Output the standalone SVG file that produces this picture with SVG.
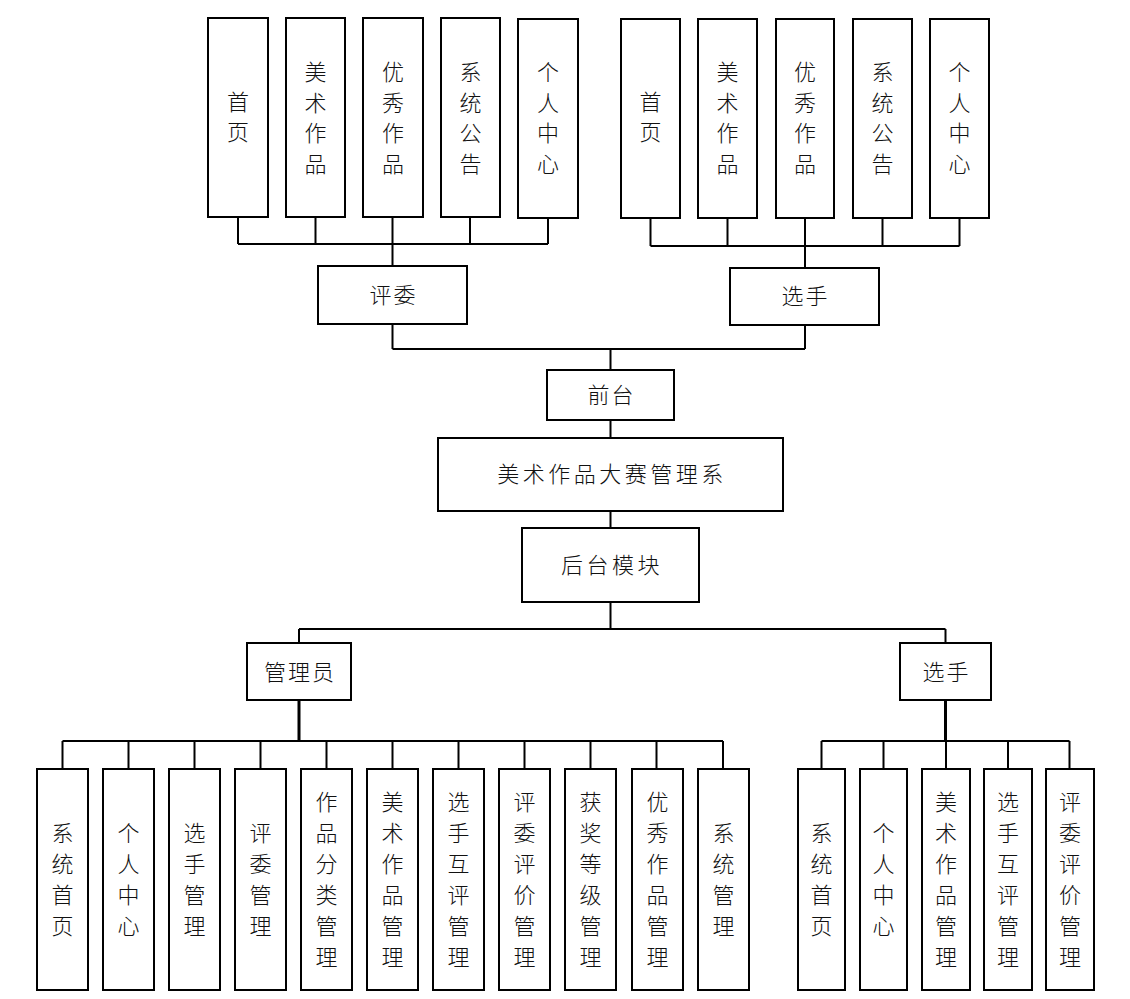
<svg xmlns="http://www.w3.org/2000/svg" width="1130" height="999" viewBox="0 0 1130 999">
<style>
.b{fill:#fff;stroke:#000;stroke-width:2}
.t{font-family:"Noto Sans CJK SC","Noto Sans",sans-serif;font-size:22px;font-weight:300;fill:#111;text-anchor:middle;dominant-baseline:central;transform:translateY(-2px)}
.h{letter-spacing:2px}
.c{fill:none;stroke:#000;stroke-width:2}
.k{stroke-width:3}
</style>
<rect width="1130" height="999" fill="#fff"/>
<g id="connectors">
<path class="c" d="M238 217V244M315.5 217V244M392.5 217V244M470 217V244M548 218V244M238 244H548M392.5 244V266"/>
<path class="c" d="M650.5 218V246M727.5 218V246M805 218V246M882.5 218V246M959.5 218V246M650.5 246H959.5M805 246V268"/>
<path class="c" d="M392.5 324V349M805 325V349M392.5 349H805M610.5 349V370M610.5 420V438M610.5 511V528M610.5 602V629M299 629H945.5M299 629V643M945.5 629V643"/>
<path class="c k" d="M299 700V741M945.5 700V741"/>
<path class="c" d="M62.5 741H723M62.5 741V769M128.5 741V769M194.5 741V769M260.5 741V769M326.5 741V769M392.5 741V769M458.5 741V769M524.5 741V769M590.5 741V769M656.5 741V769M723 741V769"/>
<path class="c" d="M821.5 741H1069.5M821.5 741V769M883.5 741V769M946 741V769M1008 741V769M1069.5 741V769"/>
</g>
<g id="jw-home"><rect class="b" x="208" y="18" width="60" height="199"/><text class="t"><tspan x="238" y="102">首</tspan><tspan x="238" y="132">页</tspan></text></g>
<g id="jw-art"><rect class="b" x="286" y="18" width="59" height="199"/><text class="t"><tspan x="315.5" y="72">美</tspan><tspan x="315.5" y="102.5">术</tspan><tspan x="315.5" y="133">作</tspan><tspan x="315.5" y="163.5">品</tspan></text></g>
<g id="jw-best"><rect class="b" x="363" y="18" width="60" height="199"/><text class="t"><tspan x="393" y="72">优</tspan><tspan x="393" y="102.5">秀</tspan><tspan x="393" y="133">作</tspan><tspan x="393" y="163.5">品</tspan></text></g>
<g id="jw-notice"><rect class="b" x="441" y="18" width="59" height="199"/><text class="t"><tspan x="470.5" y="72">系</tspan><tspan x="470.5" y="102.5">统</tspan><tspan x="470.5" y="133">公</tspan><tspan x="470.5" y="163.5">告</tspan></text></g>
<g id="jw-center"><rect class="b" x="518" y="19" width="60" height="199"/><text class="t"><tspan x="548" y="72">个</tspan><tspan x="548" y="102.5">人</tspan><tspan x="548" y="133">中</tspan><tspan x="548" y="163.5">心</tspan></text></g>
<g id="xs-home"><rect class="b" x="621" y="19" width="59" height="199"/><text class="t"><tspan x="650.5" y="102">首</tspan><tspan x="650.5" y="132">页</tspan></text></g>
<g id="xs-art"><rect class="b" x="698" y="19" width="59" height="199"/><text class="t"><tspan x="727.5" y="72">美</tspan><tspan x="727.5" y="102.5">术</tspan><tspan x="727.5" y="133">作</tspan><tspan x="727.5" y="163.5">品</tspan></text></g>
<g id="xs-best"><rect class="b" x="776" y="19" width="58" height="199"/><text class="t"><tspan x="805" y="72">优</tspan><tspan x="805" y="102.5">秀</tspan><tspan x="805" y="133">作</tspan><tspan x="805" y="163.5">品</tspan></text></g>
<g id="xs-notice"><rect class="b" x="853" y="19" width="59" height="199"/><text class="t"><tspan x="882.5" y="72">系</tspan><tspan x="882.5" y="102.5">统</tspan><tspan x="882.5" y="133">公</tspan><tspan x="882.5" y="163.5">告</tspan></text></g>
<g id="xs-center"><rect class="b" x="930" y="19" width="59" height="199"/><text class="t"><tspan x="959.5" y="72">个</tspan><tspan x="959.5" y="102.5">人</tspan><tspan x="959.5" y="133">中</tspan><tspan x="959.5" y="163.5">心</tspan></text></g>
<g id="judge"><rect class="b" x="318" y="266" width="149" height="58"/><text class="t h" x="393.5" y="295">评委</text></g>
<g id="player-top"><rect class="b" x="730" y="268" width="149" height="57"/><text class="t h" x="805.5" y="296">选手</text></g>
<g id="front"><rect class="b" x="547" y="370" width="127" height="50"/><text class="t h" x="611.5" y="395">前台</text></g>
<g id="system"><rect class="b" x="438" y="438" width="345" height="73"/><text class="t" x="612" y="474" style="letter-spacing:3.5px">美术作品大赛管理系</text></g>
<g id="backend"><rect class="b" x="522" y="528" width="177" height="74"/><text class="t" x="612" y="565" style="letter-spacing:3.5px">后台模块</text></g>
<g id="admin"><rect class="b" x="247" y="643" width="104" height="57"/><text class="t h" x="300" y="672">管理员</text></g>
<g id="player"><rect class="b" x="900" y="643" width="91" height="57"/><text class="t h" x="946.5" y="672">选手</text></g>
<g id="a1"><rect class="b" x="37" y="769" width="51" height="221"/><text class="t"><tspan x="62.5" y="833">系</tspan><tspan x="62.5" y="864">统</tspan><tspan x="62.5" y="895">首</tspan><tspan x="62.5" y="926">页</tspan></text></g>
<g id="a2"><rect class="b" x="103" y="769" width="51" height="221"/><text class="t"><tspan x="128.5" y="833">个</tspan><tspan x="128.5" y="864">人</tspan><tspan x="128.5" y="895">中</tspan><tspan x="128.5" y="926">心</tspan></text></g>
<g id="a3"><rect class="b" x="169" y="769" width="51" height="221"/><text class="t"><tspan x="194.5" y="833">选</tspan><tspan x="194.5" y="864">手</tspan><tspan x="194.5" y="895">管</tspan><tspan x="194.5" y="926">理</tspan></text></g>
<g id="a4"><rect class="b" x="235" y="769" width="51" height="221"/><text class="t"><tspan x="260.5" y="833">评</tspan><tspan x="260.5" y="864">委</tspan><tspan x="260.5" y="895">管</tspan><tspan x="260.5" y="926">理</tspan></text></g>
<g id="a5"><rect class="b" x="301" y="769" width="51" height="221"/><text class="t"><tspan x="326.5" y="802">作</tspan><tspan x="326.5" y="833">品</tspan><tspan x="326.5" y="864">分</tspan><tspan x="326.5" y="895">类</tspan><tspan x="326.5" y="926">管</tspan><tspan x="326.5" y="957">理</tspan></text></g>
<g id="a6"><rect class="b" x="367" y="769" width="51" height="221"/><text class="t"><tspan x="392.5" y="802">美</tspan><tspan x="392.5" y="833">术</tspan><tspan x="392.5" y="864">作</tspan><tspan x="392.5" y="895">品</tspan><tspan x="392.5" y="926">管</tspan><tspan x="392.5" y="957">理</tspan></text></g>
<g id="a7"><rect class="b" x="433" y="769" width="51" height="221"/><text class="t"><tspan x="458.5" y="802">选</tspan><tspan x="458.5" y="833">手</tspan><tspan x="458.5" y="864">互</tspan><tspan x="458.5" y="895">评</tspan><tspan x="458.5" y="926">管</tspan><tspan x="458.5" y="957">理</tspan></text></g>
<g id="a8"><rect class="b" x="499" y="769" width="51" height="221"/><text class="t"><tspan x="524.5" y="802">评</tspan><tspan x="524.5" y="833">委</tspan><tspan x="524.5" y="864">评</tspan><tspan x="524.5" y="895">价</tspan><tspan x="524.5" y="926">管</tspan><tspan x="524.5" y="957">理</tspan></text></g>
<g id="a9"><rect class="b" x="565" y="769" width="51" height="221"/><text class="t"><tspan x="590.5" y="802">获</tspan><tspan x="590.5" y="833">奖</tspan><tspan x="590.5" y="864">等</tspan><tspan x="590.5" y="895">级</tspan><tspan x="590.5" y="926">管</tspan><tspan x="590.5" y="957">理</tspan></text></g>
<g id="a10"><rect class="b" x="632" y="769" width="51" height="221"/><text class="t"><tspan x="657.5" y="802">优</tspan><tspan x="657.5" y="833">秀</tspan><tspan x="657.5" y="864">作</tspan><tspan x="657.5" y="895">品</tspan><tspan x="657.5" y="926">管</tspan><tspan x="657.5" y="957">理</tspan></text></g>
<g id="a11"><rect class="b" x="698" y="769" width="51" height="221"/><text class="t"><tspan x="723.5" y="833">系</tspan><tspan x="723.5" y="864">统</tspan><tspan x="723.5" y="895">管</tspan><tspan x="723.5" y="926">理</tspan></text></g>
<g id="p1"><rect class="b" x="798" y="769" width="47" height="221"/><text class="t"><tspan x="821.5" y="833">系</tspan><tspan x="821.5" y="864">统</tspan><tspan x="821.5" y="895">首</tspan><tspan x="821.5" y="926">页</tspan></text></g>
<g id="p2"><rect class="b" x="860" y="769" width="47" height="221"/><text class="t"><tspan x="883.5" y="833">个</tspan><tspan x="883.5" y="864">人</tspan><tspan x="883.5" y="895">中</tspan><tspan x="883.5" y="926">心</tspan></text></g>
<g id="p3"><rect class="b" x="922" y="769" width="48" height="221"/><text class="t"><tspan x="946" y="802">美</tspan><tspan x="946" y="833">术</tspan><tspan x="946" y="864">作</tspan><tspan x="946" y="895">品</tspan><tspan x="946" y="926">管</tspan><tspan x="946" y="957">理</tspan></text></g>
<g id="p4"><rect class="b" x="984" y="769" width="48" height="221"/><text class="t"><tspan x="1008" y="802">选</tspan><tspan x="1008" y="833">手</tspan><tspan x="1008" y="864">互</tspan><tspan x="1008" y="895">评</tspan><tspan x="1008" y="926">管</tspan><tspan x="1008" y="957">理</tspan></text></g>
<g id="p5"><rect class="b" x="1046" y="769" width="48" height="221"/><text class="t"><tspan x="1070" y="802">评</tspan><tspan x="1070" y="833">委</tspan><tspan x="1070" y="864">评</tspan><tspan x="1070" y="895">价</tspan><tspan x="1070" y="926">管</tspan><tspan x="1070" y="957">理</tspan></text></g>
</svg>
